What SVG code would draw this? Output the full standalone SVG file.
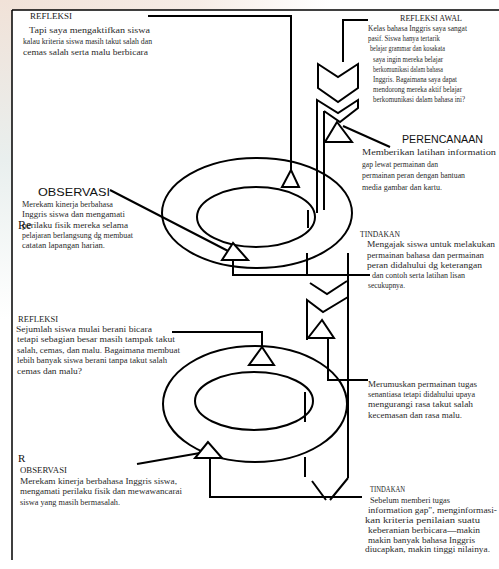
<svg xmlns="http://www.w3.org/2000/svg" width="499" height="569" viewBox="0 0 499 569">
<defs>
<linearGradient id="bgTop" x1="0" y1="0" x2="1" y2="0">
<stop offset="0" stop-color="#f1e2d8"/>
<stop offset="0.6" stop-color="#f6ece6"/>
<stop offset="1" stop-color="#ffffff"/>
</linearGradient>
<linearGradient id="bgLeft" x1="0" y1="0" x2="0" y2="1">
<stop offset="0" stop-color="#f1e2d8"/>
<stop offset="0.5" stop-color="#e9efee"/>
<stop offset="1" stop-color="#ffffff"/>
</linearGradient>
</defs>
<style>
.ln{fill:none;stroke:#000;stroke-width:2;stroke-linejoin:miter}
.thin{fill:none;stroke:#000;stroke-width:1.5}
.tri{fill:#fff;stroke:#000;stroke-width:2}
.t{font-family:"Liberation Serif","Times New Roman",serif;font-size:8px;fill:#2a2a2a}
.h{font-family:"Liberation Serif","Times New Roman",serif;font-size:8.5px;fill:#222}
.hs{font-family:"Liberation Sans",Arial,sans-serif;fill:#111}
</style>
<rect width="499" height="569" fill="#fff"/>
<rect x="0" y="0" width="330" height="10" fill="url(#bgTop)"/>
<rect x="0" y="0" width="12" height="320" fill="url(#bgLeft)"/>

<g id="frame">
<path class="thin" d="M12,10 H499 M12,10 V560"/>
</g>

<g id="connectors">
<path class="ln" d="M148,16 H291 V170"/>
<path class="ln" d="M368,20 H343 V62"/>
<path class="ln" d="M110,190 L230,252"/>
<path class="ln" d="M233,260 V275 H370"/>
<path class="ln" d="M343,126 L390,147"/>
<path class="ln" d="M262,347 V332 H172"/>
<path class="ln" d="M328,338 V380 H368"/>
<path class="ln" d="M137,464 L200,453"/>
<path class="ln" d="M210,458 V497 H362"/>
</g>

<g id="upper-ring">
<ellipse class="ln" cx="257" cy="213" rx="95" ry="55"/>
<ellipse class="ln" cx="256" cy="217" rx="59" ry="30"/>
<path class="ln" d="M308,210 V228"/>
</g>

<g id="upper-column">
<path class="ln" d="M318,64 L338,77 L358,64 V88 L338,102 L318,88 Z"/>
<path class="ln" d="M317,213 V100 L338,113 L358,100 V108 L340,122 L324,111"/>
<path class="ln" d="M324,111 V210"/>
<polygon class="tri" points="337,122 325,142 352,142"/>
<polygon class="tri" points="291,170 282,187 299,187"/>
<polygon class="tri" points="233,243 222,260 248,260"/>
</g>

<g id="lower-column">
<path class="ln" d="M307,253 V275 M348,253 V478"/>
<path class="ln" d="M310,283 L327,294 L347,281"/>
<path class="ln" d="M307,340 V300 L323,312 L348,297"/>
<polygon class="tri" points="322,320 308,338 334,338"/>
</g>

<g id="lower-ring">
<ellipse class="ln" cx="255" cy="404" rx="92" ry="58"/>
<ellipse class="ln" cx="254" cy="401" rx="59" ry="29"/>
<path class="ln" d="M305,392 V422"/>
<polygon class="tri" points="262,347 249,365 274,365"/>
<polygon class="tri" points="208,442 195,458 222,458"/>
<path class="ln" d="M305,457 V477 M312,481 L326,500 M348,478 L330,500"/>
</g>

<g id="refleksi-1">
<text class="h" x="30" y="19" textLength="42" lengthAdjust="spacingAndGlyphs">REFLEKSI</text>
<text class="t" x="29" y="33" textLength="121" lengthAdjust="spacingAndGlyphs">Tapi saya mengaktifkan siswa</text>
<text class="t" x="23" y="44" textLength="129" lengthAdjust="spacingAndGlyphs">kalau kriteria siswa masih takut salah dan</text>
<text class="t" x="23" y="55" textLength="125" lengthAdjust="spacingAndGlyphs">cemas salah serta malu berbicara</text>
</g>

<g id="refleksi-awal">
<text class="h" x="400" y="21" textLength="62" lengthAdjust="spacingAndGlyphs">REFLEKSI AWAL</text>
<text class="t" x="368" y="31" textLength="99" lengthAdjust="spacingAndGlyphs">Kelas bahasa Inggris saya sangat</text>
<text class="t" x="368" y="41" textLength="72" lengthAdjust="spacingAndGlyphs">pasif. Siswa hanya tertarik</text>
<text class="t" x="370" y="51" textLength="75" lengthAdjust="spacingAndGlyphs">belajar grammar dan kosakata</text>
<text class="t" x="373" y="62" textLength="70" lengthAdjust="spacingAndGlyphs">saya ingin mereka belajar</text>
<text class="t" x="373" y="72" textLength="70" lengthAdjust="spacingAndGlyphs">berkomunikasi dalam bahasa</text>
<text class="t" x="373" y="82" textLength="84" lengthAdjust="spacingAndGlyphs">Inggris. Bagaimana saya dapat</text>
<text class="t" x="373" y="92" textLength="89" lengthAdjust="spacingAndGlyphs">mendorong mereka aktif belajar</text>
<text class="t" x="373" y="102" textLength="92" lengthAdjust="spacingAndGlyphs">berkomunikasi dalam bahasa ini?</text>
</g>

<g id="perencanaan">
<text class="hs" x="402" y="143" font-size="10.5" textLength="81" lengthAdjust="spacingAndGlyphs">PERENCANAAN</text>
<text class="t" x="362" y="155" textLength="134" lengthAdjust="spacingAndGlyphs">Memberikan latihan information</text>
<text class="t" x="362" y="167" textLength="76" lengthAdjust="spacingAndGlyphs">gap lewat permainan dan</text>
<text class="t" x="362" y="178" textLength="103" lengthAdjust="spacingAndGlyphs">permainan peran dengan bantuan</text>
<text class="t" x="362" y="190" textLength="80" lengthAdjust="spacingAndGlyphs">media gambar dan kartu.</text>
</g>

<g id="observasi-1">
<text class="hs" x="38" y="196" font-size="11.5" textLength="72" lengthAdjust="spacingAndGlyphs">OBSERVASI</text>
<text class="t" x="22" y="207" textLength="91" lengthAdjust="spacingAndGlyphs">Merekam kinerja berbahasa</text>
<text class="t" x="22" y="217" textLength="103" lengthAdjust="spacingAndGlyphs">Inggris siswa dan mengamati</text>
<text class="t" x="22" y="227.5" textLength="106" lengthAdjust="spacingAndGlyphs">perilaku fisik mereka selama</text>
<text class="t" x="22" y="238" textLength="111" lengthAdjust="spacingAndGlyphs">pelajaran berlangsung dg membuat</text>
<text class="t" x="22" y="248" textLength="83" lengthAdjust="spacingAndGlyphs">catatan lapangan harian.</text>
<text x="18" y="229" font-family="Liberation Serif, serif" font-size="12" fill="#111">Re</text>
</g>

<g id="tindakan-1">
<text class="h" x="360" y="237" textLength="40" lengthAdjust="spacingAndGlyphs">TINDAKAN</text>
<text class="t" x="367" y="247" textLength="128" lengthAdjust="spacingAndGlyphs">Mengajak siswa untuk melakukan</text>
<text class="t" x="367" y="258" textLength="117" lengthAdjust="spacingAndGlyphs">permainan bahasa dan permainan</text>
<text class="t" x="367" y="268" textLength="115" lengthAdjust="spacingAndGlyphs">peran didahului dg keterangan</text>
<text class="t" x="372" y="278" textLength="93" lengthAdjust="spacingAndGlyphs">dan contoh serta latihan lisan</text>
<text class="t" x="368" y="288" textLength="37" lengthAdjust="spacingAndGlyphs">secukupnya.</text>
</g>

<g id="refleksi-2">
<text class="h" x="18" y="322" textLength="40" lengthAdjust="spacingAndGlyphs">REFLEKSI</text>
<text class="t" x="16" y="332" textLength="136" lengthAdjust="spacingAndGlyphs">Sejumlah siswa mulai berani bicara</text>
<text class="t" x="17" y="342" textLength="158" lengthAdjust="spacingAndGlyphs">tetapi sebagian besar masih tampak takut</text>
<text class="t" x="17" y="353" textLength="163" lengthAdjust="spacingAndGlyphs">salah, cemas, dan malu. Bagaimana membuat</text>
<text class="t" x="17" y="363" textLength="150" lengthAdjust="spacingAndGlyphs">lebih banyak siswa berani tanpa takut salah</text>
<text class="t" x="17" y="374" textLength="65" lengthAdjust="spacingAndGlyphs">cemas dan malu?</text>
</g>

<g id="perencanaan-2">
<text class="t" x="368" y="387" textLength="109" lengthAdjust="spacingAndGlyphs">Merumuskan permainan tugas</text>
<text class="t" x="368" y="397" textLength="107" lengthAdjust="spacingAndGlyphs">senantiasa tetapi didahului upaya</text>
<text class="t" x="368" y="407" textLength="105" lengthAdjust="spacingAndGlyphs">mengurangi rasa takut salah</text>
<text class="t" x="368" y="418" textLength="94" lengthAdjust="spacingAndGlyphs">kecemasan dan rasa malu.</text>
</g>

<g id="observasi-2">
<text x="18" y="462" font-family="Liberation Serif, serif" font-size="11" fill="#111">R</text>
<text class="h" x="20" y="473" textLength="47" lengthAdjust="spacingAndGlyphs">OBSERVASI</text>
<text class="t" x="20" y="484" textLength="157" lengthAdjust="spacingAndGlyphs">Merekam kinerja berbahasa Inggris siswa,</text>
<text class="t" x="20" y="494" textLength="162" lengthAdjust="spacingAndGlyphs">mengamati perilaku fisik dan mewawancarai</text>
<text class="t" x="20" y="505" textLength="100" lengthAdjust="spacingAndGlyphs">siswa yang masih bermasalah.</text>
</g>

<g id="tindakan-2">
<text class="h" x="370" y="492" textLength="35" lengthAdjust="spacingAndGlyphs">TINDAKAN</text>
<text class="t" x="370" y="503" textLength="80" lengthAdjust="spacingAndGlyphs">Sebelum memberi tugas</text>
<text class="t" x="368" y="513" textLength="129" lengthAdjust="spacingAndGlyphs">information gap", menginformasi-</text>
<text class="t" x="365" y="523" textLength="115" lengthAdjust="spacingAndGlyphs">kan kriteria penilaian suatu</text>
<text class="t" x="368" y="533" textLength="112" lengthAdjust="spacingAndGlyphs">keberanian berbicara—makin</text>
<text class="t" x="368" y="543" textLength="107" lengthAdjust="spacingAndGlyphs">makin banyak bahasa Inggris</text>
<text class="t" x="365" y="552" textLength="125" lengthAdjust="spacingAndGlyphs">diucapkan, makin tinggi nilainya.</text>
</g>
</svg>
